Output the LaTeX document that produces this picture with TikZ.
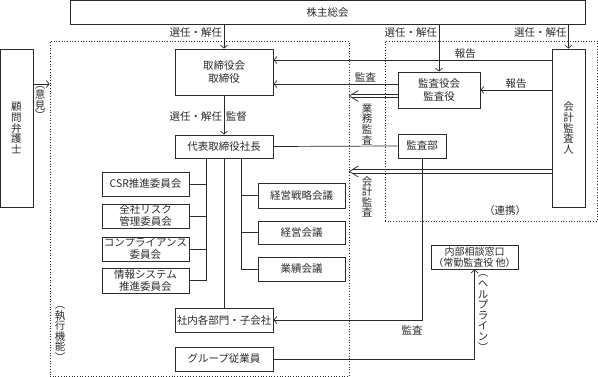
\documentclass[tikz,border=0pt]{standalone}
\usepackage{fontspec}
\setmainfont{Noto Sans CJK JP}
\usepackage{tikz}
\usetikzlibrary{arrows.meta,positioning}
\definecolor{chart-line}{HTML}{2a2a2a}

\begin{document}
\begin{tikzpicture}[
  x=1pt, y=-1pt,
  font=\fontsize{10.5}{12}\selectfont,
  every node/.style={align=center, text=chart-line},
  box/.style={rectangle, draw=chart-line, line width=0.9pt, inner sep=0pt},
  tall/.style={box, font=\fontsize{10.5}{10.8}\selectfont},
  region/.style={rectangle, draw=chart-line, line width=0.7pt, dotted, inner sep=0pt},
  vlabel/.style={inner sep=0pt, font=\fontsize{10.5}{10.6}\selectfont},
  lbl/.style={inner sep=1.5pt},
  link/.style={line width=0.7pt, chart-line},
  arrow/.style={link, -{Straight Barb[length=3pt,width=7pt]}}
]
  \useasboundingbox (0,0) rectangle (598,377);

  \node[region, minimum width=299pt, minimum height=335pt] (shikkou) at (199.5,208.5) {};
  \node[region, minimum width=212pt, minimum height=180pt] (renkei) at (491,131) {};

  \node[box, minimum width=515pt, minimum height=23.5pt] (soukai) at (327.5,12.25) {株主総会};
  \node[tall, minimum width=33pt, minimum height=158pt] (bengoshi) at (16.5,128) {顧\\問\\弁\\護\\士};
  \node[box, minimum width=98pt, minimum height=46pt, font=\fontsize{10.5}{13}\selectfont] (torishimari) at (224,72) {取締役会\\取締役};
  \node[box, minimum width=98pt, minimum height=23pt] (shachou) at (224,146.5) {代表取締役社長};

  \node[box, minimum width=87pt, minimum height=24pt] (csr) at (145.5,184) {CSR推進委員会};
  \node[box, minimum width=87pt, minimum height=24pt] (risk) at (145.5,216) {全社リスク\\管理委員会};
  \node[box, minimum width=87pt, minimum height=24pt] (comp) at (145.5,249) {コンプライアンス\\委員会};
  \node[box, minimum width=87pt, minimum height=25pt] (joho) at (145.5,280.5) {情報システム\\推進委員会};

  \node[box, minimum width=87pt, minimum height=25pt] (senryaku) at (301.5,195.5) {経営戦略会議};
  \node[box, minimum width=87pt, minimum height=23pt] (keiei) at (301.5,232.5) {経営会議};
  \node[box, minimum width=87pt, minimum height=24pt] (gyoseki) at (301.5,269) {業績会議};

  \node[box, minimum width=98pt, minimum height=24pt] (bumon) at (224,320) {社内各部門・子会社};
  \node[box, minimum width=98pt, minimum height=24pt] (jugyoin) at (224,359) {グループ従業員};

  \node[box, minimum width=82pt, minimum height=36pt, font=\fontsize{10.5}{13}\selectfont] (kansayaku) at (439,90) {監査役会\\監査役};
  \node[box, minimum width=48pt, minimum height=24pt] (kansabu) at (422,146) {監査部};
  \node[tall, minimum width=33pt, minimum height=158pt] (kaikei) at (568.5,128) {会\\計\\監\\査\\人};
  \node[box, minimum width=87pt, minimum height=24pt, font=\fontsize{10}{11}\selectfont] (madoguchi) at (474.5,257) {内部相談窓口\\（常勤監査役 他）};

  \draw[arrow] (soukai.south -| torishimari.north) -- (torishimari.north)
    node[lbl, pos=0.35, left] {選任・解任};
  \draw[arrow] (soukai.south -| kansayaku.north) -- (kansayaku.north)
    node[lbl, pos=0.18, left] {選任・解任};
  \draw[arrow] (soukai.south -| kaikei.north) -- (kaikei.north)
    node[lbl, pos=0.35, left] {選任・解任};

  \draw[arrow] (torishimari.south) -- (shachou.north)
    node[lbl, pos=0.55, left] {選任・解任}
    node[lbl, pos=0.55, right] {監督};

  \coordinate (cmt-top) at ([xshift=-18pt]shachou.south);
  \draw[link] (cmt-top) |- (joho.east);
  \draw[link] (csr.east) -- (csr.east -| cmt-top);
  \draw[link] (risk.east) -- (risk.east -| cmt-top);
  \draw[link] (comp.east) -- (comp.east -| cmt-top);

  \coordinate (mtg-top) at ([xshift=17pt]shachou.south);
  \draw[link] (mtg-top) |- (gyoseki.west);
  \draw[link] (senryaku.west) -- (senryaku.west -| mtg-top);
  \draw[link] (keiei.west) -- (keiei.west -| mtg-top);

  \draw[link] (shachou.south) -- (bumon.north);

  \coordinate (iken-src) at ([yshift=44pt]bengoshi.east);
  \draw[arrow] (iken-src) -- (iken-src -| shikkou.west);
  \node[vlabel] (iken) at (40,103) {︵\\意\\見\\︶};

  \draw[arrow] ([yshift=68pt]kaikei.west) -- ([yshift=12pt]torishimari.east)
    node[lbl, pos=0.31, above] {報告};
  \draw[arrow] ([yshift=38pt]kaikei.west) -- (kansayaku.east)
    node[lbl, midway, above] {報告};
  \draw[arrow] ([yshift=6pt]kansayaku.west) -- ([yshift=-12pt]torishimari.east)
    node[lbl, pos=0.26, above] {監査};

  \coordinate (gyomu-src) at ([yshift=-6pt]kansayaku.west);
  \coordinate (gyomu-end) at (gyomu-src -| shikkou.east);
  \draw[link] ([yshift=1.8pt]gyomu-src) -- ([xshift=2.8pt,yshift=1.8pt]gyomu-end);
  \draw[link] ([yshift=-1.8pt]gyomu-src) -- ([xshift=2.8pt,yshift=-1.8pt]gyomu-end);
  \draw[link] ([xshift=9pt,yshift=5.5pt]gyomu-end) -- (gyomu-end) -- ([xshift=9pt,yshift=-5.5pt]gyomu-end);
  \node[vlabel] (gyomu) at (367,124) {業\\務\\監\\査};

  \coordinate (kaikan-src) at ([yshift=-43.5pt]kaikei.west);
  \coordinate (kaikan-end) at (kaikan-src -| shikkou.east);
  \draw[link] ([yshift=1.8pt]kaikan-src) -- ([xshift=2.8pt,yshift=1.8pt]kaikan-end);
  \draw[link] ([yshift=-1.8pt]kaikan-src) -- ([xshift=2.8pt,yshift=-1.8pt]kaikan-end);
  \draw[link] ([xshift=9pt,yshift=5.5pt]kaikan-end) -- (kaikan-end) -- ([xshift=9pt,yshift=-5.5pt]kaikan-end);
  \node[vlabel] (kaikan) at (367,197) {会\\計\\監\\査};

  \draw[link] (shachou.east) -- (kansabu.west);
  \draw[arrow] (kansabu.south) |- (bumon.east);
  \node[lbl] (kansa-lbl) at (412,330) {監査};

  \draw[arrow] (jugyoin.east) -| (madoguchi.south);
  \node[vlabel] (help) at (483,313) {︵\\ヘ\\ル\\プ\\ラ\\イ\\ン\\︶};

  \node[lbl] (renkei-lbl) at (505,211) {（連携）};
  \node[vlabel] (shikkou-lbl) at (60,334) {︵\\執\\行\\機\\能\\︶};
\end{tikzpicture}
\end{document}
